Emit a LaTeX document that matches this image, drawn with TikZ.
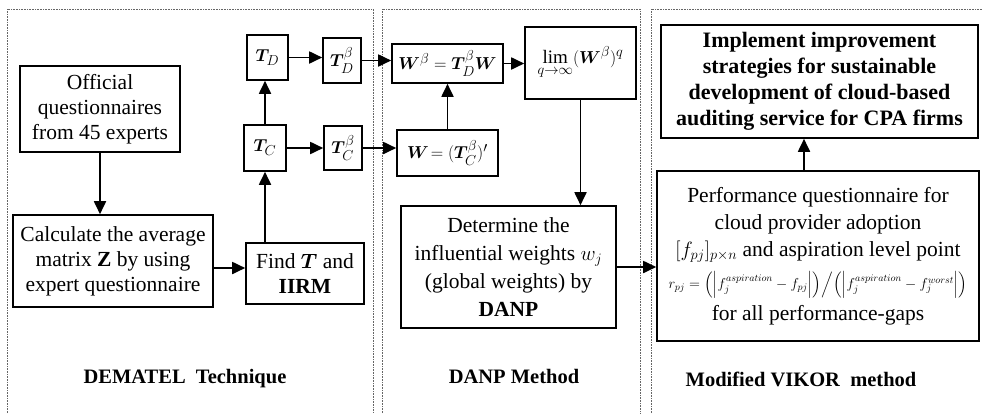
\documentclass[tikz,border=0pt]{standalone}
\usepackage{amsmath, amssymb}
\usepackage{bm}
\usepackage{fontspec}
\setmainfont{Liberation Serif}
\usetikzlibrary{arrows.meta, positioning, calc}

\begin{document}
\begin{tikzpicture}[x=1pt, y=-1pt, font=\fontsize{21.5}{25}\selectfont]
        \tikzstyle{process} = [rectangle, draw=black, line width=1.6pt, inner sep=1pt, align=center]
        \tikzstyle{formula} = [process, font=\fontsize{19}{23}\selectfont]
        \tikzstyle{arrow} = [-{Triangle[length=13pt, width=12pt]}, line width=1.8pt]
        \tikzstyle{panel} = [densely dotted, black!60, line width=0.6pt]
        \tikzstyle{method} = [font=\fontsize{20.5}{24}\selectfont\bfseries]

        \useasboundingbox (0,0) rectangle (982,413);

        % Panels
        \draw [panel] (7,413) |- (373,9) -- (373,413);
        \draw [panel] (382,413) |- (640,9) -- (640,413);
        \draw [panel] (651,413) |- (982,9);

        % Nodes
        \node (official) [process, minimum width=160pt, minimum height=86pt] at (100,109) {Official\\questionnaires\\from 45 experts};
        \node (calc) [process, minimum width=200pt, minimum height=92pt] at (113,261) {Calculate the average\\matrix \textbf{Z} by using\\expert questionnaire};
        \node (find) [process, minimum width=118pt, minimum height=61pt] at (305,273.5) {Find $\boldsymbol{T}$ and\\\textbf{IIRM}};
        \node (tc) [formula, minimum width=42pt, minimum height=46pt] at (265,148) {$\boldsymbol{T}_C$};
        \node (td) [formula, minimum width=41pt, minimum height=45pt] at (267.5,57.5) {$\boldsymbol{T}_D$};
        \node (tdb) [formula, minimum width=38pt, minimum height=45pt] at (342,60.5) {$\boldsymbol{T}_D^{\beta}$};
        \node (tcb) [formula, minimum width=38pt, minimum height=44pt] at (343,148) {$\boldsymbol{T}_C^{\beta}$};
        \node (wb) [formula, minimum width=111pt, minimum height=39pt] at (447.5,63.5) {$\boldsymbol{W}^{\beta}=\boldsymbol{T}_D^{\beta}\boldsymbol{W}$};
        \node (lim) [formula, minimum width=111pt, minimum height=72pt] at (580.5,63) {$\displaystyle\lim_{q\to\infty}(\boldsymbol{W}^{\beta})^{q}$};
        \node (weq) [formula, minimum width=101pt, minimum height=46pt] at (447.5,153) {$\boldsymbol{W}\!=(\boldsymbol{T}_C^{\beta})'$};
        \node (danp) [process, minimum width=215pt, minimum height=122pt, font=\fontsize{21.5}{28}\selectfont] at (508.5,267) {Determine the\\influential weights $w_j$\\(global weights) by\\\textbf{DANP}};
        \node (impl) [process, minimum width=317pt, minimum height=113pt, font=\fontsize{22}{26}\selectfont\bfseries] at (819.5,81.5) {Implement improvement\\strategies for sustainable\\development of cloud-based\\auditing service for CPA firms};
        \node (perf) [process, minimum width=322pt, minimum height=170pt, font=\fontsize{21.5}{27}\selectfont] at (818,256) {Performance questionnaire for\\cloud provider adoption\\$[f_{pj}]_{p\times n}$ and aspiration level point\\[5pt]
            {\fontsize{14.5}{17}\selectfont $r_{pj}=\Bigl(\Bigl|f_j^{aspiration}-f_{pj}\Bigr|\Bigr)\Big/\Bigl(\Bigl|f_j^{aspiration}-f_j^{worst}\Bigr|\Bigr)$}\\[5pt]
            for all performance-gaps};

        % Arrows
        \draw [arrow] (official.south) -- (official.south |- calc.north);
        \draw [arrow] ([yshift=-7pt]calc.east) -- ([yshift=-7pt]calc.east -| find.west);
        \draw [arrow] (tc.south |- find.north) -- (tc.south);
        \draw [arrow] (tc.north) -- (tc.north |- td.south);
        \draw [arrow] (td.east) -- (td.east -| tdb.west);
        \draw [arrow] (tc.east) -- (tcb.west);
        \draw [arrow] (tdb.east) -- (tdb.east -| wb.west);
        \draw [arrow] (tcb.east) -- (tcb.east -| weq.west);
        \draw [arrow] (weq.north) -- (wb.south);
        \draw [arrow] (wb.east) -- (wb.east -| lim.west);
        \draw [arrow] (lim.south) -- (lim.south |- danp.north);
        \draw [arrow] (danp.east) -- (danp.east -| perf.west);
        \draw [arrow] ([xshift=-14pt]perf.north) -- ([xshift=-14pt]perf.north |- impl.south);

        % Labels below
        \node (dematel) [method] at (185,379) {DEMATEL\ \ Technique};
        \node (danpm) [method] at (514,376) {DANP Method};
        \node (vikor) [method] at (801,379) {Modified VIKOR\ \ method};
    \end{tikzpicture}
\end{document}
